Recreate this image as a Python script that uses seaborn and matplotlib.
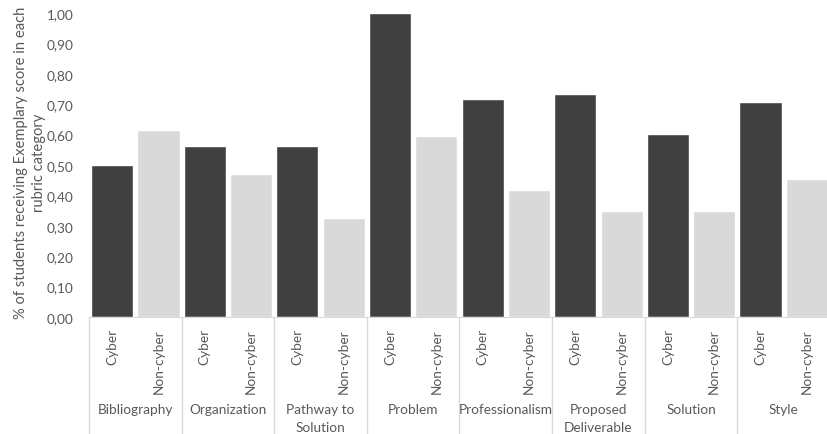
import pandas as pd
import matplotlib.pyplot as plt
import matplotlib.transforms as mtransforms
import seaborn as sns

sns.set_style("white")
plt.rcParams["font.family"] = ["Lato", "DejaVu Sans"]

# rubric categories and share of students with an Exemplary score
categories = ["Bibliography", "Organization", "Pathway to\nSolution", "Problem",
              "Professionalism", "Proposed\nDeliverable", "Solution", "Style"]
groups = ["Cyber", "Non-cyber"]
cyber = [0.50, 0.5625, 0.5625, 1.00, 0.717, 0.734, 0.602, 0.707]
non_cyber = [0.615, 0.471, 0.326, 0.595, 0.418, 0.349, 0.349, 0.454]
y_ticks = [0.0, 0.1, 0.2, 0.3, 0.4, 0.5, 0.6, 0.7, 0.8, 0.9, 1.0]

text_col = "#595959"
line_col = "#d9d9d9"

rows = []
for cat, c, n in zip(categories, cyber, non_cyber):
    rows.append({"slot": cat + "|Cyber", "group": "Cyber", "value": c})
    rows.append({"slot": cat + "|Non-cyber", "group": "Non-cyber", "value": n})
df = pd.DataFrame(rows)

fig = plt.figure(figsize=(8.27, 4.35), dpi=100)
ax = fig.add_axes([89 / 827, 117 / 435, 741 / 827, 304 / 435])

sns.barplot(data=df, x="slot", y="value", hue="group", dodge=False,
            palette={"Cyber": "#404040", "Non-cyber": "#d9d9d9"},
            width=0.91, legend=False, ax=ax)

ax.set_ylim(0, 1.0)
ax.set_xlim(-0.5, len(df) - 0.5)
ax.set_yticks(y_ticks)
ax.set_yticklabels([f"{v:.2f}".replace(".", ",") for v in y_ticks])
ax.set_xticks(range(len(df)))
ax.set_xticklabels([g for _ in categories for g in groups], rotation=90,
                   va="top", ha="center")
ax.tick_params(axis="x", length=0, pad=8, labelsize=9.8, labelcolor=text_col)
ax.tick_params(axis="y", length=0, pad=11, labelsize=9.8, labelcolor=text_col)
for side in ["top", "right", "left"]:
    ax.spines[side].set_visible(False)
ax.spines["bottom"].set_color(line_col)
ax.set_xlabel("")
ax.set_ylabel("% of students receiving Exemplary score in each\nrubric category",
              color=text_col, fontsize=10.6, linespacing=1.4)
ax.yaxis.set_label_coords(-0.058, 0.51)

# multi-level category axis: separators and group labels
trans = mtransforms.blended_transform_factory(ax.transData, ax.transAxes)
for i in range(len(categories) + 1):
    ax.plot([2 * i - 0.5, 2 * i - 0.5], [0, -0.4], transform=trans,
            color=line_col, lw=1, clip_on=False)
for i, cat in enumerate(categories):
    ax.text(2 * i + 0.5, -0.283, cat, transform=trans, ha="center", va="top",
            fontsize=9.8, color=text_col, linespacing=1.55)

fig.savefig("out.png", dpi=100)
